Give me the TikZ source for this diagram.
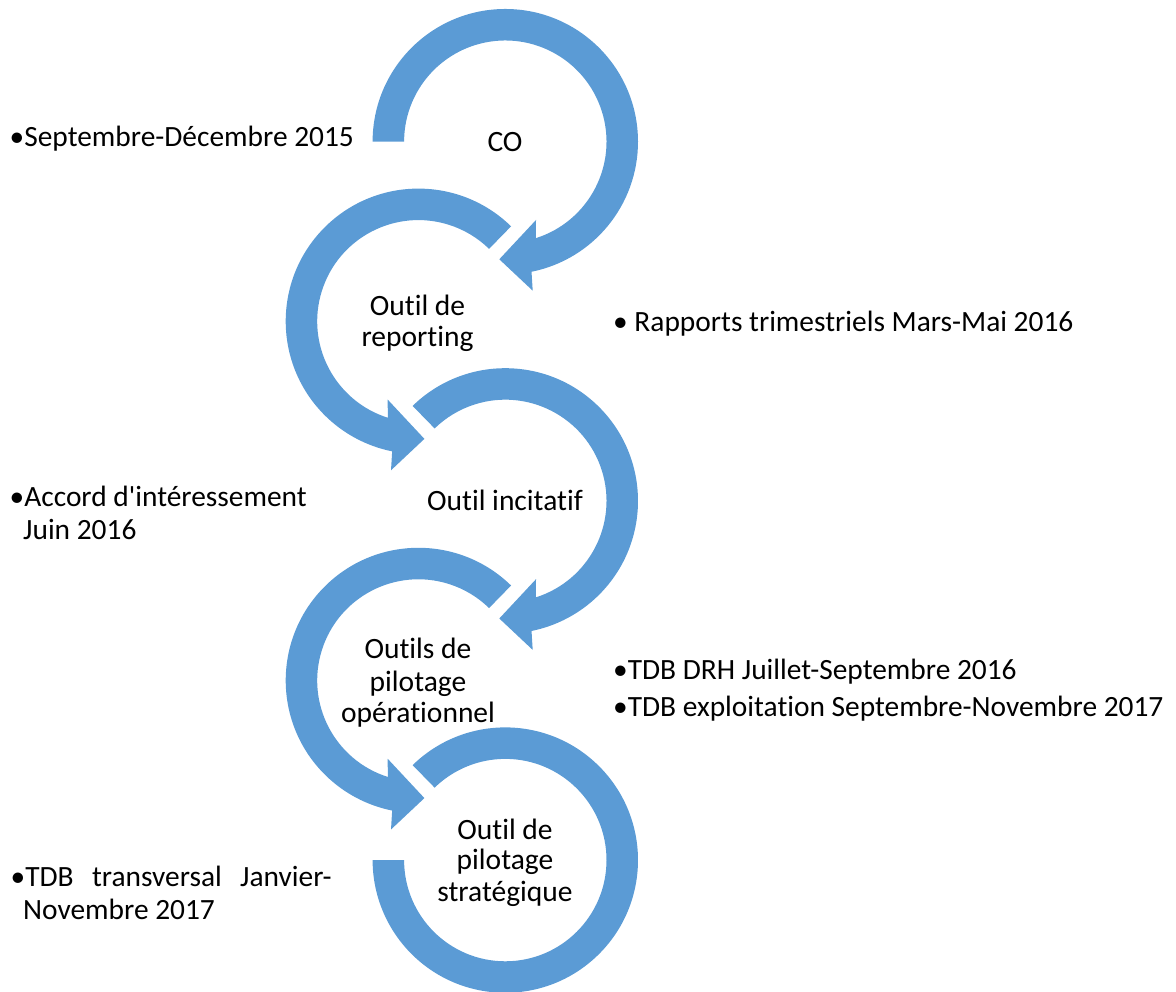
\documentclass[tikz,border=0pt]{standalone}
\usepackage{fontspec}
\setmainfont{Carlito}[Ligatures=NoCommon]
\definecolor{ringblue}{HTML}{5B9BD5}
\newcommand\straightapos{{\XeTeXglyph\XeTeXcharglyph"27\relax}}
\newcommand\ringArrow[1]{%
  \fill[ring] (#1:132.7) arc[start angle=#1,end angle=-78.6,radius=132.7]
    -- (27.4,-149) -- (-6,-117.6) -- (30.7,-78.3)
    -- (-72.4:101.2) arc[start angle=-72.4,end angle=#1,radius=101.2] -- cycle;}
\begin{document}
\begin{tikzpicture}[x=1pt,y=1pt,
  ring/.style={fill=ringblue},
  side/.style={anchor=base west, inner sep=0pt, font=\fontsize{29.4}{33}\selectfont},
  lab/.style={anchor=base, inner sep=0pt, font=\fontsize{29.5}{32}\selectfont}]
\useasboundingbox (0,0) rectangle (1176,992);
% rings
\begin{scope}[shift={(505.3,850.3)}] \ringArrow{180} \end{scope}
\begin{scope}[shift={(418.4,670.7)},xscale=-1] \ringArrow{134.3} \end{scope}
\begin{scope}[shift={(505.3,491.1)}] \ringArrow{134.3} \end{scope}
\begin{scope}[shift={(418.4,311.5)},xscale=-1] \ringArrow{134.3} \end{scope}
\begin{scope}[shift={(505.3,131.9)}]
  \fill[ring] (134.3:132.7) arc[start angle=134.3,end angle=-180,radius=132.7]
    -- (180:101.2) arc[start angle=-180,end angle=134.3,radius=101.2] -- cycle;
\end{scope}
% circle labels
\node[lab] (co) at (505,840.3) {CO};
\node[lab] (rep1) at (417.5,676) {Outil de};
\node[lab] (rep2) at (417.5,645) {reporting};
\node[lab] (inc) at (505,481.3) {Outil incitatif};
\node[lab] (op1) at (418,333.7) {Outils de};
\node[lab] (op2) at (418,300.3) {pilotage};
\node[lab] (op3) at (418,269.3) {opérationnel};
\node[lab] (st1) at (505,152.7) {Outil de};
\node[lab] (st2) at (505,122) {pilotage};
\node[lab] (st3) at (505,90.3) {stratégique};
% side texts
\node[side] (t1) at (9.5,845.3) {•Septembre-Décembre 2015};
\node[side] (t2) at (613,660.3) {• Rapports trimestriels Mars-Mai 2016};
\node[side] (t3a) at (9.5,485) {•Accord d\straightapos intéressement};
\node[side] (t3b) at (23,452) {Juin 2016};
\node[side] (t4a) at (613,312) {•TDB DRH Juillet-Septembre 2016};
\node[side] (t4b) at (613,275) {•TDB exploitation Septembre-Novembre 2017};
\node[side] (t5a) at (10.5,105.3) {\hbox to 321pt{•TDB transversal Janvier-}};
\node[side] (t5b) at (23,72) {Novembre 2017};
\end{tikzpicture}
\end{document}
